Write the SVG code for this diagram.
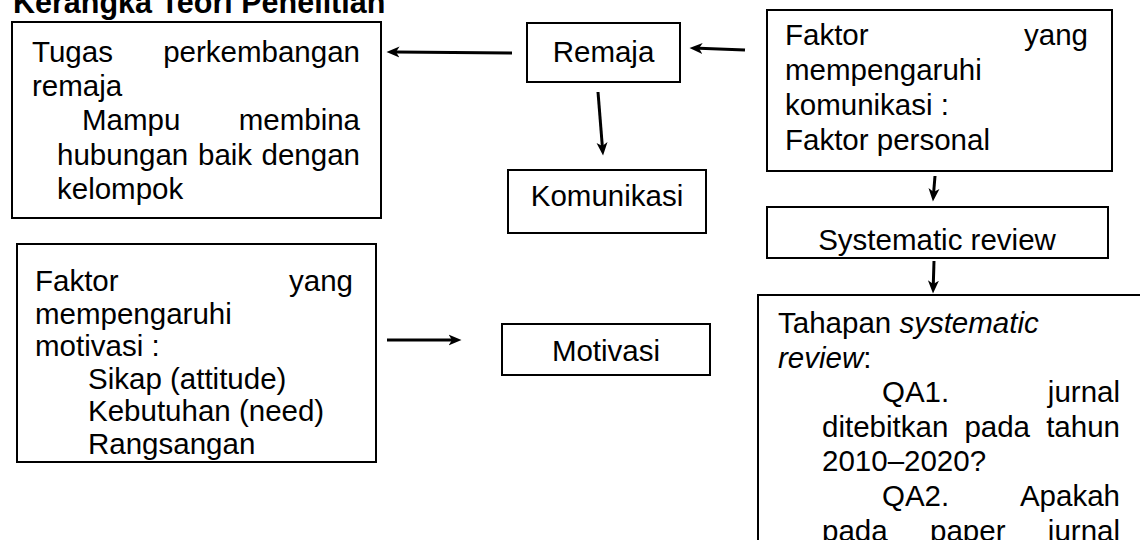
<svg xmlns="http://www.w3.org/2000/svg" width="1140" height="540" viewBox="0 0 1140 540">
<style>
  text { font-family: "Liberation Sans", Arial, sans-serif; font-size: 29.5px; fill: #000; }
  .title { font-weight: bold; font-size: 30.5px; }
  .c { text-anchor: middle; }
  .e { text-anchor: end; }
  .i { font-style: italic; }
  .box { fill: #fff; stroke: #000; stroke-width: 2; }
  .conn line { stroke: #000; stroke-width: 3; marker-end: url(#ah); }
</style>
<defs>
  <marker id="ah" markerUnits="userSpaceOnUse" markerWidth="14" markerHeight="12" refX="3.5" refY="5.5" orient="auto" viewBox="0 0 14 11">
    <path d="M0,0 L13,5.5 L0,11 L3.5,5.5 Z" fill="#000"/>
  </marker>
</defs>
<rect width="1140" height="540" fill="#fff"/>
<text class="title" x="13" y="13">Kerangka Teori Penelitian</text>

<g id="tugas">
  <rect class="box" x="12" y="22" width="369" height="196"/>
  <text x="32" y="62">Tugas</text><text class="e" x="360" y="62">perkembangan</text>
  <text x="32" y="96">remaja</text>
  <text x="82" y="130">Mampu</text><text class="e" x="360" y="130">membina</text>
  <text x="57" y="165">hubungan</text><text x="198" y="165">baik</text><text class="e" x="360" y="165">dengan</text>
  <text x="57" y="199">kelompok</text>
</g>

<g id="remaja">
  <rect class="box" x="527" y="23" width="153" height="59"/>
  <text class="c" x="603.5" y="62">Remaja</text>
</g>

<g id="komunikasi">
  <rect class="box" x="508" y="170" width="198" height="63"/>
  <text class="c" x="607" y="206">Komunikasi</text>
</g>

<g id="faktor-komunikasi">
  <rect class="box" x="767" y="10" width="345" height="161"/>
  <text x="785" y="45">Faktor</text><text class="e" x="1088" y="45">yang</text>
  <text x="785" y="80">mempengaruhi</text>
  <text x="785" y="115">komunikasi :</text>
  <text x="785" y="150">Faktor personal</text>
</g>

<g id="systematic-review">
  <rect class="box" x="767" y="207" width="341" height="51"/>
  <text class="c" x="937" y="250">Systematic review</text>
</g>

<g id="tahapan">
  <rect class="box" x="758" y="295" width="400" height="260"/>
  <text x="778" y="333">Tahapan <tspan class="i">systematic</tspan></text>
  <text x="778" y="367.5"><tspan class="i">review</tspan>:</text>
  <text x="882" y="402">QA1.</text><text class="e" x="1120" y="402">jurnal</text>
  <text x="822" y="436.5">ditebitkan</text><text x="964.4" y="436.5">pada</text><text class="e" x="1120" y="436.5">tahun</text>
  <text x="822" y="471">2010–2020?</text>
  <text x="882" y="505.5">QA2.</text><text class="e" x="1120" y="505.5">Apakah</text>
  <text x="822" y="541">pada</text><text x="930" y="541">paper</text><text class="e" x="1120" y="541">jurnal</text>
</g>

<g id="faktor-motivasi">
  <rect class="box" x="17" y="244" width="359" height="218"/>
  <text x="35" y="291">Faktor</text><text class="e" x="353" y="291">yang</text>
  <text x="35" y="323.5">mempengaruhi</text>
  <text x="35" y="356">motivasi :</text>
  <text x="88" y="388.5">Sikap (attitude)</text>
  <text x="88" y="421">Kebutuhan (need)</text>
  <text x="88" y="453.5">Rangsangan</text>
</g>

<g id="motivasi">
  <rect class="box" x="502" y="324" width="208" height="51"/>
  <text class="c" x="606" y="361">Motivasi</text>
</g>

<g class="conn" id="connectors">
  <line x1="512" y1="53" x2="396" y2="52"/>
  <line x1="745" y1="50" x2="699" y2="48.3"/>
  <line x1="598" y1="92" x2="602.3" y2="146"/>
  <line x1="935" y1="176" x2="933.7" y2="192"/>
  <line x1="934" y1="261" x2="933.3" y2="284"/>
  <line x1="387" y1="340" x2="452" y2="340"/>
</g>
</svg>
